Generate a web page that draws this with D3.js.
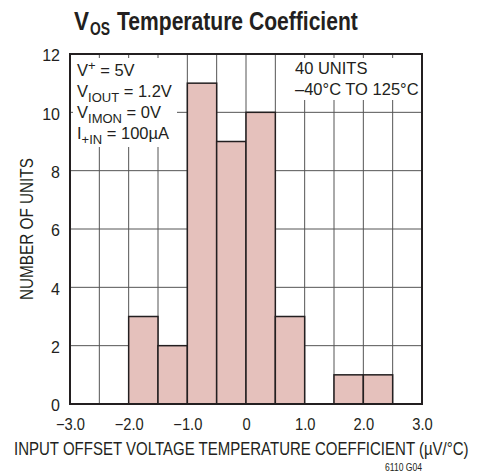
<!DOCTYPE html>
<html>
<head>
<meta charset="utf-8">
<script src="https://cdn.jsdelivr.net/npm/d3@7"></script>
<style>
  body { margin: 0; background: #fff; }
  svg text { font-family: "Liberation Sans", Arial, sans-serif; fill: #231f20; }
</style>
</head>
<body>
<div id="chart"></div>
<script>
// histogram bins (lower edge, upper edge) and counts
var binStart = [-2.0, -1.5, -1.0, -0.5, 0.0, 0.5, 1.5, 2.0];
var binEnd   = [-1.5, -1.0, -0.5, 0.0, 0.5, 1.0, 2.0, 2.5];
var counts   = [3, 2, 11, 9, 10, 3, 1, 1];
var xTicks = [-3, -2, -1, 0, 1, 2, 3];
var xTickLabels = ["\u22123.0", "\u22122.0", "\u22121.0", "0", "1.0", "2.0", "3.0"];
var xGrid = [-2.5, -2, -1.5, -1, -0.5, 0, 0.5, 1, 1.5, 2, 2.5];
var yTicks = [0, 2, 4, 6, 8, 10, 12];

var W = 477, H = 474;
var m = {top: 54, right: 55, bottom: 70, left: 70};
var w = W - m.left - m.right, h = H - m.top - m.bottom;

var svg = d3.select("#chart").append("svg").attr("width", W).attr("height", H);
var g = svg.append("g").attr("transform", "translate(" + m.left + "," + m.top + ")");

var x = d3.scaleLinear().domain([-3, 3]).range([0, w]);
var y = d3.scaleLinear().domain([0, 12]).range([h, 0]);

// grid
g.selectAll(".vg").data(xGrid).enter().append("line")
  .attr("x1", function(d) { return x(d); }).attr("x2", function(d) { return x(d); })
  .attr("y1", 0).attr("y2", h).attr("stroke", "#555").attr("stroke-width", 1);
g.selectAll(".hg").data(yTicks.slice(1, -1)).enter().append("line")
  .attr("x1", 0).attr("x2", w)
  .attr("y1", function(d) { return y(d); }).attr("y2", function(d) { return y(d); })
  .attr("stroke", "#555").attr("stroke-width", 1);

// white boxes behind the notes
g.append("rect").attr("x", 3).attr("y", 4).attr("width", 104).attr("height", 89).attr("fill", "#fff");
g.append("rect").attr("x", 226).attr("y", 4).attr("width", 124).attr("height", 42).attr("fill", "#fff");

// bars
var bars = binStart.map(function(s, i) { return {s: s, e: binEnd[i], n: counts[i]}; });
g.selectAll(".bar").data(bars).enter().append("rect")
  .attr("x", function(d) { return x(d.s); })
  .attr("width", function(d) { return x(d.e) - x(d.s); })
  .attr("y", function(d) { return y(d.n); })
  .attr("height", function(d) { return h - y(d.n); })
  .attr("fill", "#e5c1bc").attr("stroke", "#231f20").attr("stroke-width", 1.5);

// frame
g.append("rect").attr("width", w).attr("height", h)
  .attr("fill", "none").attr("stroke", "#231f20").attr("stroke-width", 2);

// axes (labels only)
var xaxis = d3.axisBottom(x).tickValues(xTicks).tickSize(0).tickPadding(0)
  .tickFormat(function(d, i) { return xTickLabels[i]; });
var xg = g.append("g").attr("transform", "translate(0," + h + ")").call(xaxis);
xg.select(".domain").remove();
xg.selectAll("text").attr("font-size", 16).style("font-family", null)
  .attr("y", 26).attr("dy", null).attr("transform", "scale(0.92,1)");

var yaxis = d3.axisLeft(y).tickValues(yTicks).tickSize(0).tickPadding(0);
var yg = g.append("g").call(yaxis);
yg.select(".domain").remove();
yg.selectAll("text").attr("font-size", 16).style("font-family", null)
  .attr("x", -10).attr("dy", "0.42em");

// squeezed text: put it at (px,py), rotated by rot, and scale it to span len pixels
function squeezed(px, py, rot, len, size, txt, bold) {
  var gg = svg.append("g");
  var t = gg.append("text").attr("font-size", size).text(txt);
  if (bold) t.attr("font-weight", "bold");
  var natural = t.node().getComputedTextLength();
  gg.attr("transform", "translate(" + px + "," + py + ") rotate(" + rot + ") scale(" + (len / natural) + ",1)");
  return t;
}

// axis titles
squeezed(14, 455, 0, 455, 18, "INPUT OFFSET VOLTAGE TEMPERATURE COEFFICIENT (\u00b5V/\u00b0C)");
squeezed(33, 300, -90, 142, 18, "NUMBER OF UNITS");
squeezed(385, 471, 0, 37, 11, "6110 G04");

// title
squeezed(74, 30, 0, 15, 25, "V", true);
squeezed(90, 35, 0, 20, 19, "OS", true);
squeezed(117, 30, 0, 241, 25, "Temperature Coefficient", true);

// notes
function note(px, py, parts) {
  var tx = svg.append("text").attr("x", px).attr("y", py).attr("font-size", 16.5);
  var shift = 0;
  parts.forEach(function(p) {
    var off = p[1] || 0;
    tx.append("tspan").attr("dy", off - shift).attr("font-size", off ? 13 : 16.5).text(p[0]);
    shift = off;
  });
}
note(77, 76, [["V"], ["+", -6], [" = 5V"]]);
note(77, 97, [["V"], ["IOUT", 5], [" = 1.2V"]]);
note(77, 118, [["V"], ["IMON", 5], [" = 0V"]]);
note(77, 139, [["I"], ["+IN", 5], [" = 100\u00b5A"]]);
svg.append("text").attr("x", 295).attr("y", 74).attr("font-size", 16.5).text("40 UNITS");
svg.append("text").attr("x", 295).attr("y", 95).attr("font-size", 16.5).text("\u201340\u00b0C TO 125\u00b0C");
</script>
</body>
</html>
